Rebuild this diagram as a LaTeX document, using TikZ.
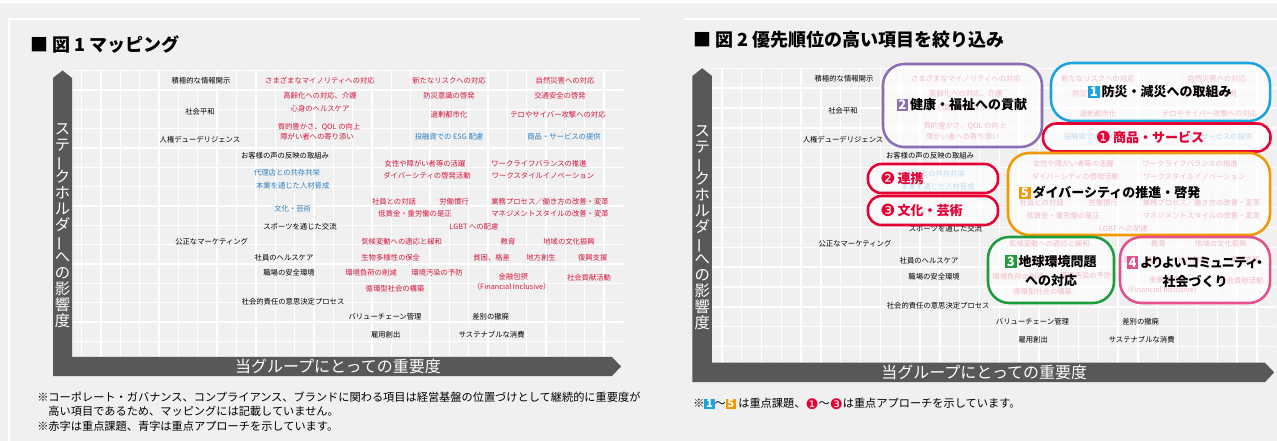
\documentclass[tikz,border=0pt]{standalone}
\usepackage{fontspec}
\setmainfont{Noto Sans CJK JP}
\newfontfamily\djv{DejaVu Sans}
\definecolor{bg}{HTML}{EFF0EF}
\definecolor{bar}{HTML}{595757}
\definecolor{rd}{HTML}{D6173F}
\definecolor{bl}{HTML}{2C80C5}
\definecolor{cpurple}{HTML}{8B6EB4}
\definecolor{ccyan}{HTML}{1AA3DD}
\definecolor{cred}{HTML}{E60033}
\definecolor{corange}{HTML}{F39800}
\definecolor{cgreen}{HTML}{1E9B3C}
\definecolor{cpink}{HTML}{E4508E}
\AtBeginDocument{\lineskiplimit=-20pt\relax}
\newcommand\sqb[2]{{\setlength{\fboxsep}{1pt}\colorbox{#1}{\makebox[0.66em]{\textcolor{white}{\bfseries #2}}}}}
\newcommand\cnum[1]{\raisebox{-0.12em}{\scalebox{1.3}{\djv\mdseries #1}}}
\newcommand\vbar{\rotatebox[origin=c]{90}{ー}}
\tikzset{
  itm/.style={inner sep=0pt, font=\fontsize{5.5pt}{6.6pt}\selectfont, text=black},
  ritm/.style={itm, text=rd},
  bitm/.style={itm, text=bl},
  gridline/.style={white, line width=1pt},
  vax/.style={inner sep=0pt, text=white, align=center, font=\fontsize{11.5pt}{12pt}\selectfont},
  hax/.style={inner sep=0pt, text=white, font=\fontsize{12pt}{14pt}\selectfont},
  mtitle/.style={inner sep=0pt, anchor=west, font=\fontsize{13.5pt}{16pt}\selectfont\bfseries},
  fn/.style={inner sep=0pt, anchor=west, font=\fontsize{8.4pt}{10pt}\selectfont},
  hbox/.style={draw=#1, line width=1.9pt, fill=white, fill opacity=0.7, inner sep=0pt},
  ttl/.style={inner sep=0pt, text opacity=1, font=\fontsize{9.75pt}{14.25pt}\selectfont\bfseries},
}
\newcommand\mapaxes[1]{%
  \begin{scope}
    \clip (72,70) rectangle (623,357);
    \foreach \i in {0,...,28} {\draw[gridline] ({81.7+19.35*\i},70) -- ({81.7+19.35*\i},357);}
    \foreach \j in {0,...,14} {\draw[gridline] (72,{70.5+19.35*\j}) -- (623,{70.5+19.35*\j});}
  \end{scope}
  \fill[bar] (53,78) -- (62.5,70.5) -- (72,78) -- (72,357) -- (612,357) -- (621,366.5) -- (612,376) -- (53,376) -- cycle;
  \node[vax] (#1v) at (62.5,226) {ス\\テ\\{\vbar}\\ク\\ホ\\ル\\ダ\\{\vbar}\\へ\\の\\影\\響\\度};
  \node[hax] (#1h) at (338,366.5) {当グループにとっての重要度};
}
\newcommand\mapitems[1]{%
  \node[itm] (#1a1) at (201,81) {積極的な情報開示};
  \node[itm] (#1a2) at (200,112) {社会平和};
  \node[itm] (#1a3) at (200,140) {人権デューデリジェンス};
  \node[itm] (#1a4) at (285,156) {お客様の声の反映の取組み};
  \node[itm] (#1a5) at (300,227) {スポーツを通じた交流};
  \node[itm] (#1a6) at (211.7,241.7) {公正なマーケティング};
  \node[itm] (#1a7) at (284,257.7) {社員のヘルスケア};
  \node[itm] (#1a8) at (289,273) {職場の安全環境};
  \node[itm] (#1a9) at (293,302) {社会的責任の意思決定プロセス};
  \node[itm] (#1a10) at (385,316.7) {バリューチェーン管理};
  \node[itm] (#1a11) at (490.7,316.7) {差別の撤廃};
  \node[itm] (#1a12) at (385.7,335) {雇用創出};
  \node[itm] (#1a13) at (491.7,335) {サステナブルな消費};
  \node[ritm] (#1r1) at (320,81) {さまざまなマイノリティへの対応};
  \node[ritm] (#1r2) at (449,81) {新たなリスクへの対応};
  \node[ritm] (#1r3) at (565,81) {自然災害への対応};
  \node[ritm] (#1r4) at (320,95.7) {高齢化への対応、介護};
  \node[ritm] (#1r5) at (449,95.7) {防災意識の啓発};
  \node[ritm] (#1r6) at (560,95.7) {交通安全の啓発};
  \node[ritm] (#1r7) at (320,109) {心身のヘルスケア};
  \node[ritm] (#1r8) at (449,115) {過剰都市化};
  \node[ritm] (#1r9) at (558,115) {テロやサイバー攻撃への対応};
  \node[ritm] (#1r10) at (319,126.7) {質的豊かさ、QOL の向上};
  \node[ritm] (#1r11) at (317,136.7) {障がい者への寄り添い};
  \node[ritm] (#1r12) at (425,163.7) {女性や障がい者等の活躍};
  \node[ritm] (#1r13) at (539,163.7) {ワークライフバランスの推進};
  \node[ritm] (#1r14) at (427,176) {ダイバーシティの啓発活動};
  \node[ritm] (#1r15) at (543,176) {ワークスタイルイノベーション};
  \node[ritm] (#1r16) at (394,201.7) {社員との対話};
  \node[ritm] (#1r17) at (454,201.7) {労働慣行};
  \node[ritm] (#1r18) at (550,201.7) {業務プロセス／働き方の改善・変革};
  \node[ritm] (#1r19) at (415,214) {低賃金・重労働の是正};
  \node[ritm] (#1r20) at (550,214) {マネジメントスタイルの改善・変革};
  \node[ritm] (#1r21) at (474,226.7) {LGBT への配慮};
  \node[ritm] (#1r22) at (401.7,241.7) {気候変動への適応と緩和};
  \node[ritm] (#1r23) at (508,241.7) {教育};
  \node[ritm] (#1r24) at (569,241.7) {地域の文化振興};
  \node[ritm] (#1r25) at (390.7,257.5) {生物多様性の保全};
  \node[ritm] (#1r26) at (491.7,257.3) {貧困、格差};
  \node[ritm] (#1r27) at (541,257.3) {地方創生};
  \node[ritm] (#1r28) at (592.7,257.3) {復興支援};
  \node[ritm] (#1r29) at (371,273) {環境負荷の削減};
  \node[ritm] (#1r30) at (437,272.7) {環境汚染の予防};
  \node[ritm] (#1r31) at (513.3,276.5) {金融包摂};
  \node[ritm] (#1r32) at (511.7,286.5) {（Financial Inclusive）};
  \node[ritm] (#1r33) at (589,277.3) {社会貢献活動};
  \node[ritm] (#1r34) at (395,288.3) {循環型社会の構築};
  \node[bitm] (#1b1) at (449,136.7) {投融資での ESG 配慮};
  \node[bitm] (#1b2) at (564,136.7) {商品・サービスの提供};
  \node[bitm] (#1b3) at (287,172.7) {代理店との共存共栄};
  \node[bitm] (#1b4) at (292.7,186) {本業を通じた人材育成};
  \node[bitm] (#1b5) at (292.7,209) {文化・芸術};
}
\begin{document}
\begin{tikzpicture}[x=0.75pt, y=-0.75pt]
\useasboundingbox (0,0) rectangle (1277,441);
\fill[bg] (0,0) rectangle (1277,441);
\fill[white] (0,0) rectangle (1277,3.5);
\draw[white, line width=1.2pt] (9,441) -- (9,19) -- (641,19);
\draw[white, line width=1.2pt] (683,19) -- (1277,19);
% titles
\node[mtitle] (title1) at (30,45) {■ 図 1 マッピング};
\node[mtitle] (title2) at (693,40) {■ 図 2 優先順位の高い項目を絞り込み};
% left panel
\mapaxes{L}
\mapitems{L}
% right panel
\begin{scope}[shift={(638.2,-4.2)}, xscale=1.024, yscale=1.0276]
  \mapaxes{R}
  \mapitems{R}
\end{scope}
% boxes
\node[hbox=cpurple, rounded corners=16pt, minimum width=119.25pt, minimum height=62.25pt] (bx2) at (962.5,105.5) {};
\node[hbox=ccyan, rounded corners=16pt, minimum width=164.25pt, minimum height=43.5pt] (bx1) at (1160.5,92) {};
\node[hbox=cred, rounded corners=10pt, minimum width=170.6pt, minimum height=21pt] (bc1) at (1156.75,137.5) {};
\node[hbox=corange, rounded corners=16pt, minimum width=196.5pt, minimum height=61.5pt] (bx5) at (1139,194) {};
\node[hbox=cred, rounded corners=10pt, minimum width=97.5pt, minimum height=21.75pt] (bc2) at (933,178.5) {};
\node[hbox=cred, rounded corners=10pt, minimum width=97.5pt, minimum height=21.75pt] (bc3) at (933,210.5) {};
\node[hbox=cgreen, rounded corners=16pt, minimum width=94.5pt, minimum height=49.5pt] (bx3) at (1051,270) {};
\node[hbox=cpink, rounded corners=16pt, minimum width=112.5pt, minimum height=49.5pt] (bx4) at (1195,270) {};
% box titles
\node[ttl] (t2) at (962,105) {\sqb{cpurple}{2}\,健康・福祉への貢献};
\node[ttl] (t1) at (1160,92) {\sqb{ccyan}{1}\,防災・減災への取組み};
\node[ttl, text=cred] (tc1) at (1150,137.5) {\cnum{❶}\,商品・サービス};
\node[ttl, anchor=west] (t5) at (1019,193) {\sqb{corange}{5}\,ダイバーシティの推進・啓発};
\node[ttl, anchor=west, text=cred] (tc2) at (880,178.5) {\cnum{❷}\,連携};
\node[ttl, anchor=west, text=cred] (tc3) at (880,210.5) {\cnum{❸}\,文化・芸術};
\node[ttl, align=center] (t3) at (1051,271) {\sqb{cgreen}{3}\,地球環境問題\\への対応};
\node[ttl, align=center] (t4) at (1195,272) {\addfontfeature{RawFeature=+palt}\sqb{cpink}{4}\,よりよいコミュニティ・\\社会づくり};
% footnotes
\node[fn] (f1) at (37,397) {※コーポレート・ガバナンス、コンプライアンス、ブランドに関わる項目は経営基盤の位置づけとして継続的に重要度が};
\node[fn] (f2) at (37,411) {　高い項目であるため、マッピングには記載していません。};
\node[fn] (f3) at (37,426) {※赤字は重点課題、青字は重点アプローチを示しています。};
\node[fn] (f4) at (693,404) {※\sqb{ccyan}{1}～\sqb{corange}{5} は重点課題、\textcolor{cred}{\cnum{❶}}～\textcolor{cred}{\cnum{❸}}は重点アプローチを示しています。};
\end{tikzpicture}
\end{document}
